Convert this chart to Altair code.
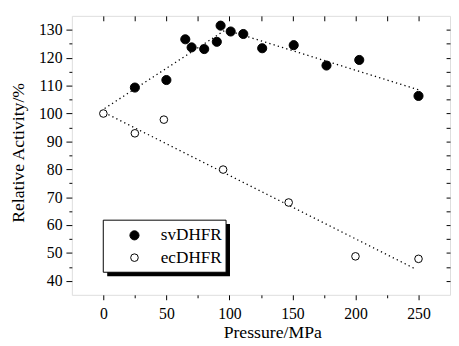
import altair as alt
import pandas as pd

# ---- data ----
sv_pressure = [25, 50, 65, 70, 80, 90, 93, 101, 111, 126, 151, 177, 203, 250]
sv_activity = [109.3, 112.0, 126.6, 123.7, 123.1, 125.7, 131.5, 129.4, 128.5, 123.4, 124.5, 117.2, 119.2, 106.3]
ec_pressure = [0, 25, 48, 95, 147, 200, 250]
ec_activity = [100.0, 92.9, 97.8, 79.9, 68.1, 48.8, 47.9]

# dotted trend lines
sv_fit_pressure = [1, 97, 250]
sv_fit_activity = [101.8, 130.0, 108.5]
ec_fit_pressure = [4, 247]
ec_fit_activity = [99.6, 44.4]

series = ["svDHFR", "ecDHFR"]
x_major = [0, 50, 100, 150, 200, 250]
x_minor = [25, 75, 125, 175, 225]
x_top = [0, 25, 50, 75, 100, 125, 150, 175, 200, 225, 250]
y_major = [40, 50, 60, 70, 80, 90, 100, 110, 120, 130]
y_minor = [45, 55, 65, 75, 85, 95, 105, 115, 125]
y_right = [40, 45, 50, 55, 60, 65, 70, 75, 80, 85, 90, 95, 100, 105, 110, 115, 120, 125, 130]

pts = pd.DataFrame({
    "p": sv_pressure + ec_pressure,
    "a": sv_activity + ec_activity,
    "s": ["svDHFR"] * len(sv_pressure) + ["ecDHFR"] * len(ec_pressure),
})
fit = pd.DataFrame({
    "p": sv_fit_pressure + ec_fit_pressure,
    "a": sv_fit_activity + ec_fit_activity,
    "s": ["svDHFR"] * len(sv_fit_pressure) + ["ecDHFR"] * len(ec_fit_pressure),
})

W, H = 385, 284
FONT = "Liberation Serif, Times New Roman, serif"
xs = alt.Scale(domain=[-25, 275], nice=False, zero=False)
ys = alt.Scale(domain=[35, 135], nice=False, zero=False)

base_ax = dict(grid=False, domain=False, tickColor="black", tickWidth=1,
               labelColor="black", labelFont=FONT, titleFont=FONT,
               titleColor="black", titleFontWeight="normal")

lines = alt.Chart(fit).mark_line(color="black", strokeDash=[1.3, 3.2], strokeWidth=1.3).encode(
    x=alt.X("p:Q", scale=xs, axis=alt.Axis(orient="bottom", values=x_major, tickSize=5,
            labelPadding=6, labelFontSize=16, title="Pressure/MPa", titleFontSize=18,
            titleX=204, titleY=43, titleBaseline="alphabetic", **base_ax)),
    y=alt.Y("a:Q", scale=ys, axis=alt.Axis(orient="left", values=y_major, tickSize=6,
            labelPadding=4, labelFontSize=16, title="Relative Activity/%", titleFontSize=18,
            titleX=-49, titleY=139, titleAngle=270, titleAlign="center",
            titleBaseline="alphabetic", **base_ax)),
    detail="s:N",
)

legend = alt.Legend(orient="none", legendX=55, legendY=214.7, title=None, padding=0,
                    labelFont=FONT, labelFontSize=17.5, labelColor="black", labelOffset=18,
                    rowPadding=3.7, symbolType="circle", symbolStrokeColor="black",
                    symbolStrokeWidth=1)

points = alt.Chart(pts).mark_point(shape="circle", filled=True, stroke="black",
                                   strokeWidth=1, opacity=1).encode(
    x=alt.X("p:Q", scale=xs, axis=alt.Axis(orient="bottom", values=x_minor, tickSize=3,
            labels=False, title=None, **base_ax)),
    y=alt.Y("a:Q", scale=ys, axis=alt.Axis(orient="left", values=y_minor, tickSize=3,
            labels=False, title=None, **base_ax)),
    fill=alt.Fill("s:N", scale=alt.Scale(domain=series, range=["black", "white"]), legend=legend),
    stroke=alt.Stroke("s:N", scale=alt.Scale(domain=series, range=["black", "black"]), legend=legend),
    size=alt.Size("s:N", scale=alt.Scale(domain=series, range=[86, 60]), legend=legend),
)

ghost = alt.Chart(pts).mark_point(opacity=0).encode(
    x=alt.X("p:Q", scale=xs, axis=alt.Axis(orient="bottom", offset=-H, values=x_top, tickSize=5,
            labels=False, title=None, **base_ax)),
    y=alt.Y("a:Q", scale=ys, axis=alt.Axis(orient="left", offset=-W, values=y_right, tickSize=4,
            labels=False, title=None, **base_ax)),
)

one = pd.DataFrame({"k": [0]})
shadow = alt.Chart(one).mark_rect(color="black").encode(
    x=alt.value(36), x2=alt.value(161), y=alt.value(212), y2=alt.value(265))
box = alt.Chart(one).mark_rect(fill="white", stroke="black", strokeWidth=1).encode(
    x=alt.value(32), x2=alt.value(157), y=alt.value(208), y2=alt.value(261))

chart = alt.layer(lines, points, ghost, shadow, box).resolve_scale(
    x="shared", y="shared"
).resolve_axis(x="independent", y="independent").properties(
    width=W, height=H, autosize="none",
    padding={"left": 65, "top": 5, "right": 1, "bottom": 45},
).configure_view(stroke="black", strokeWidth=1).configure(background="white")

chart.save("out.html", embed_options={"renderer": "svg", "actions": False})
